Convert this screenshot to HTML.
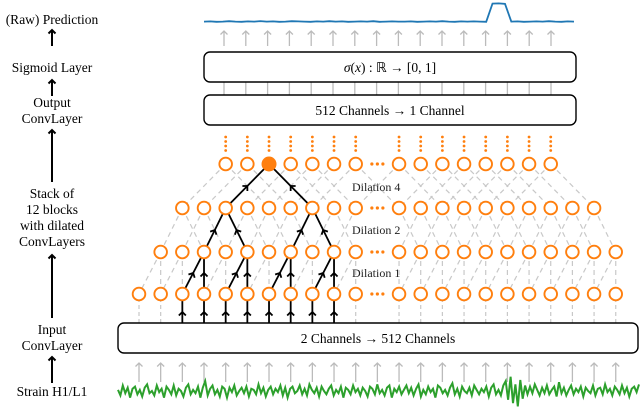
<!DOCTYPE html>
<html><head><meta charset="utf-8"><style>
html,body{margin:0;padding:0;background:#fff;}
svg{display:block;font-family:"Liberation Serif",serif;}
</style></head><body>
<svg id="c" width="640" height="409" viewBox="0 0 640 409" xmlns="http://www.w3.org/2000/svg">
<g id="left" font-size="13.5" text-anchor="middle" fill="#000">
<text x="52" y="24">(Raw) Prediction</text>
<text x="52" y="72">Sigmoid Layer</text>
<text x="52" y="107">Output</text>
<text x="52" y="123">ConvLayer</text>
<text x="52" y="198">Stack of</text>
<text x="52" y="214">12 blocks</text>
<text x="52" y="230">with dilated</text>
<text x="52" y="246">ConvLayers</text>
<text x="52" y="334">Input</text>
<text x="52" y="350">ConvLayer</text>
<text x="52" y="396">Strain H1/L1</text>
</g>
<g id="grid"></g>
<rect x="204" y="52" width="372" height="30" rx="6" fill="#fff" stroke="#000" stroke-width="1.4"/>
<text x="390" y="72" font-size="13.5" text-anchor="middle"><tspan font-style="italic">σ</tspan>(<tspan font-style="italic">x</tspan>) : ℝ → [0, 1]</text>
<rect x="204" y="95" width="372" height="30" rx="6" fill="#fff" stroke="#000" stroke-width="1.4"/>
<text x="390" y="115" font-size="13.5" text-anchor="middle">512 Channels → 1 Channel</text>
<rect x="118" y="323" width="520" height="30" rx="6" fill="#fff" stroke="#000" stroke-width="1.4"/>
<text x="378" y="343" font-size="13.5" text-anchor="middle">2 Channels → 512 Channels</text>
<g fill="#222">
<text x="352" y="191" font-size="12">Dilation 4</text>
<text x="352" y="234" font-size="12">Dilation 2</text>
<text x="352" y="277" font-size="12">Dilation 1</text>
</g>
</svg>
<script>
// Prediction series (0..1 output), strain series (normalized noise)
const predValues=[0.02,0.03,0.01,0.02,0.04,0.02,0.01,0.03,0.02,0.05,0.02,0.03,0.01,0.02,0.04,0.03,0.02,0.01,0.03,0.02,0.04,0.02,0.03,0.01,0.02,0.03,0.02,0.04,0.01,0.02,0.03,0.02,0.02,0.03,0.01,0.02,0.03,0.02,0.04,0.02,0.01,0.03,0.02,0.03,0.02,0.01,0.97,0.98,0.96,0.02,0.03,0.01,0.02,0.03,0.02,0.04,0.02,0.01,0.03,0.02];
const strainValues=[0.1,-0.4,0.5,-0.2,0.3,-0.6,0.2,0.4,-0.3,0.1,-0.5,0.3,0.6,-0.2,0.0,-0.4,0.5,-0.1,0.2,-0.6,0.4,0.1,-0.3,0.5,-0.4,0.2,0.0,-0.5,0.3,0.6,-0.3,0.1,-0.2,0.4,-0.6,0.3,0.9,-0.4,0.2,0.5,-0.3,0.1,-0.5,0.4,0.2,-0.6,0.3,-0.1,0.5,-0.4,0.0,0.3,-0.2,0.4,-0.5,0.2,0.1,-0.3,0.6,-0.2,0.3,-0.5,0.1,0.4,-0.3,0.2,-0.1,0.5,-0.4,0.3,-0.6,0.2,0.4,-0.2,0.0,0.5,-0.3,0.2,-0.4,0.6,0.1,-0.2,0.3,-0.5,0.4,0.0,-0.3,0.2,0.5,-0.4,0.1,-0.2,0.4,-0.6,0.3,0.1,-0.3,0.5,-0.1,0.2,-0.4,0.3,0.0,-0.5,0.4,0.2,-0.3,0.6,-0.2,0.1,-0.4,0.3,0.5,-0.6,0.2,-0.1,0.4,-0.3,0.1,0.5,-0.2,0.3,-0.4,0.2,0.6,-0.5,0.1,-0.3,0.4,-0.1,0.2,-0.6,0.5,0.3,-0.2,0.1,-0.4,0.3,0.7,-0.3,0.2,-0.5,0.4,0.0,-0.2,0.3,-0.4,0.5,0.1,-0.3,0.2,-0.1,0.4,-0.5,0.3,0.6,-0.3,0.1,-0.4,0.5,0.9,-0.8,1.3,-1.1,0.6,-1.4,1.0,-0.7,0.5,-0.3,0.4,-0.2,0.6,0.1,-0.4,0.3,-0.2,0.5,-0.3,0.1,0.4,-0.5,0.8,-0.2,0.3,-0.4,0.1,0.5,-0.3,0.2,-0.1,0.4,-0.5,0.3,0.0,-0.2,0.5,-0.4,0.2,0.3,-0.3,0.6,-0.1,0.2,-0.4,0.4,0.1,-0.3,0.5,-0.2,0.3,-0.5,0.2,0.4,-0.1,0.6];
const svg=document.getElementById('c');
const NS='http://www.w3.org/2000/svg';
function mk(tag,attrs,parent){const e=document.createElementNS(NS,tag);for(const k in attrs)e.setAttribute(k,attrs[k]);(parent||svg).appendChild(e);return e;}
const colX=i=>139+21.67*i;
const rowY=[294,252,208,164];
const rowRange=[[0,22],[1,22],[2,21],[4,19]];
const grid=document.getElementById('grid');
const ORANGE='#ff7f0e';
function exists(r,i){return i!==11&&i>=rowRange[r][0]&&i<=rowRange[r][1];}
const offs=[[-1,0],[-1,1],[-2,2]];
for(let r=1;r<4;r++){for(let i=rowRange[r][0];i<=rowRange[r][1];i++){if(i===11)continue;for(const o of offs[r-1]){const j=i+o;if(!exists(r-1,j))continue;
const l=mk('line',{x1:colX(i),y1:rowY[r],x2:colX(j),y2:rowY[r-1],stroke:'#c8c8c8','stroke-width':1.2,'stroke-dasharray':'5,4'},grid);

}}}
for(let i=0;i<=22;i++){if(i===11||(i>=2&&i<=9))continue;
const l=mk('line',{x1:colX(i),y1:323,x2:colX(i),y2:301,stroke:'#c8c8c8','stroke-width':1.2,'stroke-dasharray':'4,3'},grid);

}
function arrow(x1,y1,x2,y2,color,w,mid,name){
 const l=mk('line',{x1:x1,y1:y1,x2:x2,y2:y2,stroke:color,'stroke-width':w},grid);
 
 
 const hx=mid?(x1+x2)/2:x2,hy=mid?(y1+y2)/2:y2;
 const ang=Math.atan2(y2-y1,x2-x1)*180/Math.PI+90;
 const h=mk('path',{d:'M-3.5,3.5 L0,0 L3.5,3.5',fill:'none',stroke:color,'stroke-width':w,transform:`translate(${hx},${hy}) rotate(${ang})`},grid);
 
 
}
const blackEdges=[[3,6,2,4],[3,6,2,8],[2,4,1,3],[2,4,1,5],[2,8,1,7],[2,8,1,9],[1,3,0,2],[1,3,0,3],[1,5,0,4],[1,5,0,5],[1,7,0,6],[1,7,0,7],[1,9,0,8],[1,9,0,9]];
for(const e of blackEdges){arrow(colX(e[3]),rowY[e[2]],colX(e[1]),rowY[e[0]],'#000',1.8,true,'receptive-field-edge');}
for(let i=2;i<=9;i++){arrow(colX(i),323,colX(i),301,'#000',1.8,true,'input-edge');}
for(let r=0;r<4;r++){for(let i=rowRange[r][0];i<=rowRange[r][1];i++){
 if(i===11){for(let k=-1;k<=1;k++){const d=mk('circle',{cx:colX(11)+k*5.5,cy:rowY[r],r:1.6,fill:ORANGE},grid);
 
 }continue;}
 const filled=(r===3&&i===6);
 const c=mk('circle',{cx:colX(i),cy:rowY[r],r:filled?7.5:6.3,fill:filled?ORANGE:'#fff',stroke:ORANGE,'stroke-width':filled?0:1.9},grid);
 
 
}}
for(let i=4;i<=19;i++){if(i===11)continue;for(const y of [137,141.5,146,150.5]){const d=mk('circle',{cx:colX(i),cy:y,r:1.4,fill:ORANGE},grid);

}}
const topCols=[];for(let k=0;k<16;k++)topCols.push(224+21.8*k);
for(const x of topCols){
 arrow(x,46,x,31,'#bbb',1.3,false,'output-arrow');
 const l=mk('line',{x1:x,y1:82,x2:x,y2:95,stroke:'#bbb','stroke-width':1.3},grid);
 
 
}
for(let i=0;i<=22;i++){const x=colX(i);arrow(x,382,x,363,'#bbb',1.3,false,'input-arrow');}
for(const [y1,y2] of [[46,30],[96,80],[182,130],[318,255],[383,357]]){arrow(52,y1,52,y2,'#000',2,false,'flow-arrow');}
const px0=204,px1=574,pyBase=22,pyTop=3;
const pScale=v=>pyBase-(pyBase-pyTop)*v;
let d='';predValues.forEach((v,k)=>{const x=px0+(px1-px0)*k/(predValues.length-1);d+=(k?'L':'M')+x.toFixed(1)+','+pScale(v).toFixed(1);});
const pl=mk('path',{d:d,fill:'none',stroke:'#1f77b4','stroke-width':1.8});


const sx0=118,sx1=639,sy=391,sAmp=11;
let d2='';strainValues.forEach((v,k)=>{const x=sx0+(sx1-sx0)*k/(strainValues.length-1);d2+=(k?'L':'M')+x.toFixed(1)+','+(sy-sAmp*v).toFixed(1);});
const sl=mk('path',{d:d2,fill:'none',stroke:'#2ca02c','stroke-width':2});


</script>
</body></html>
